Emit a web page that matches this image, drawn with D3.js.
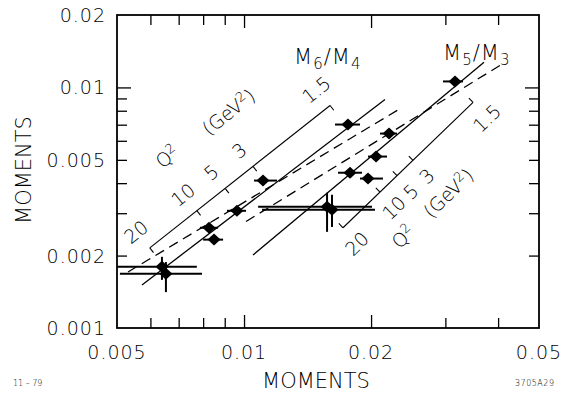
<!DOCTYPE html>
<html><head><meta charset="utf-8">
<script src="https://cdn.jsdelivr.net/npm/d3@7"></script>
<style>
body{margin:0;background:#fff}
svg{display:block}
text{font-family:"DejaVu Sans",sans-serif;font-weight:200;fill:#000}
</style>
</head><body>
<svg id="c" width="561" height="394"></svg>
<script>
// ---------- data ----------
// M6/M4 points (x = M4, y = M6)
const m64X    = [0.00639, 0.00653, 0.00826, 0.00849, 0.00962, 0.01109, 0.01763];
const m64Y    = [0.001796, 0.00168, 0.00261, 0.00233, 0.00307, 0.00410, 0.00701];
const m64XLo  = [0.00500, 0.00508, 0.00786, 0.00800, 0.00911, 0.01056, 0.01643];
const m64XHi  = [0.00773, 0.00795, 0.00868, 0.00892, 0.01011, 0.01197, 0.01883];
const m64YLo  = [0.001585, 0.00141, null, null, null, null, null];
const m64YHi  = [0.001976, 0.00188, null, null, null, null, null];
// M5/M3 points (x = M3, y = M5)
const m53X    = [0.01573, 0.01616, 0.01783, 0.01967, 0.02055, 0.02206, 0.03162];
const m53Y    = [0.00319, 0.00310, 0.00442, 0.00418, 0.00516, 0.00643, 0.01059];
const m53XLo  = [0.01080, 0.01103, 0.01670, 0.01883, 0.01967, 0.02100, 0.02961];
const m53XHi  = [0.02010, 0.02043, 0.01903, 0.02134, 0.02182, 0.02304, 0.03303];
const m53YLo  = [0.00251, 0.00263, null, null, null, null, null];
const m53YHi  = [0.00365, 0.00358, null, null, null, null, null];
// theory curves (straight in log-log): [x, y] end points
const m64Solid  = [[0.00573, 0.00151], [0.02158, 0.00891]];
const m64Dashed = [[0.00531, 0.00171], [0.02367, 0.00825]];
const m53Solid  = [[0.01050, 0.00201], [0.03704, 0.01271]];
const m53Dashed = [[0.01011, 0.00277], [0.04042, 0.01235]];
// Q2 scales (GeV^2)
const q2Labels  = ["20", "10", "5", "3", "1.5"];
const m64Q2Line = [[0.00598, 0.002154], [0.01599, 0.00841]];
const m64Q2X    = [0.00598, 0.00773, 0.00902, 0.01050, 0.01599];
const m53Q2Line = [[0.01716, 0.00261], [0.03489, 0.00866]];
const m53Q2X    = [0.01716, 0.02100, 0.02304, 0.02514, 0.03489];
// axes
const xTickVals   = [0.005, 0.01, 0.02, 0.05];
const xTickLabels = ["0.005", "0.01", "0.02", "0.05"];
const yTickVals   = [0.001, 0.002, 0.005, 0.01, 0.02];
const yTickLabels = ["0.001", "0.002", "0.005", "0.01", "0.02"];
const xMinor = [0.006, 0.007, 0.008, 0.009, 0.01, 0.02, 0.03, 0.04];
const yMinor = [0.002, 0.003, 0.004, 0.005, 0.006, 0.007, 0.008, 0.009, 0.01];

// ---------- drawing ----------
const svg = d3.select("#c");
const L = 117, R = 539, T = 15, B = 328;
const x = d3.scaleLog().domain([0.005, 0.05]).range([L, R]);
const y = d3.scaleLog().domain([0.001, 0.02]).range([B, T]);

function styleTicks(g) {
  g.select(".domain").remove();
  g.selectAll(".tick line").attr("stroke", "#000").attr("stroke-width", 1.3);
  g.selectAll(".tick text").remove();
}
svg.append("g").attr("transform", `translate(0,${B})`)
  .call(d3.axisBottom(x).tickValues(xMinor).tickSize(-10).tickFormat(""))
  .call(styleTicks).selectAll(".tick line").filter(d => d === 0.01 || d === 0.02).attr("y2", -13);
svg.append("g").attr("transform", `translate(0,${T})`)
  .call(d3.axisTop(x).tickValues(xMinor).tickSize(-10).tickFormat(""))
  .call(styleTicks).selectAll(".tick line").filter(d => d === 0.01 || d === 0.02).attr("y2", 13);
svg.append("g").attr("transform", `translate(${L},0)`)
  .call(d3.axisLeft(y).tickValues(yMinor).tickSize(-10).tickFormat(""))
  .call(styleTicks).selectAll(".tick line").filter(d => d === 0.01).attr("x2", 14);
svg.append("g").attr("transform", `translate(${R},0)`)
  .call(d3.axisRight(y).tickValues(yMinor).tickSize(-10).tickFormat(""))
  .call(styleTicks).selectAll(".tick line").filter(d => d === 0.01).attr("x2", -14);

// frame
svg.append("rect").attr("x", L).attr("y", T).attr("width", R - L).attr("height", B - T)
  .attr("fill", "none").attr("stroke", "#000").attr("stroke-width", 1.8);

// tick labels
svg.append("g").selectAll("text").data(xTickVals).join("text")
  .attr("x", d => x(d)).attr("y", 359).attr("text-anchor", "middle")
  .attr("font-size", 19).attr("letter-spacing", 1)
  .text((d, i) => xTickLabels[i]);
svg.append("g").selectAll("text").data(yTickVals).join("text")
  .attr("x", 106).attr("y", d => y(d) + 7).attr("text-anchor", "end")
  .attr("font-size", 19).attr("letter-spacing", 1)
  .text((d, i) => yTickLabels[i]);

// axis titles
svg.append("text").attr("x", 316).attr("y", 388).attr("text-anchor", "middle")
  .attr("font-size", 21).text("MOMENTS");
svg.append("text").attr("transform", "translate(31,170) rotate(-90)").attr("text-anchor", "middle")
  .attr("font-size", 21).text("MOMENTS");

// footnotes
svg.append("text").attr("x", 13).attr("y", 386).attr("font-size", 8).text("11 \u2013 79");
svg.append("text").attr("x", 515).attr("y", 386).attr("font-size", 8).attr("letter-spacing", 0.5).text("3705A29");

// theory lines
function drawLine(seg, dashed) {
  svg.append("line")
    .attr("x1", x(seg[0][0])).attr("y1", y(seg[0][1]))
    .attr("x2", x(seg[1][0])).attr("y2", y(seg[1][1]))
    .attr("stroke", "#000").attr("stroke-width", 1.3)
    .attr("stroke-dasharray", dashed ? "10,6" : null);
}
drawLine(m64Solid, false);
drawLine(m64Dashed, true);
drawLine(m53Solid, false);
drawLine(m53Dashed, true);

// Q2 scales
function q2Scale(line, qx, side) {
  const p0 = [x(line[0][0]), y(line[0][1])], p1 = [x(line[1][0]), y(line[1][1])];
  const dx = p1[0] - p0[0], dy = p1[1] - p0[1], len = Math.hypot(dx, dy);
  const u = [dx / len, dy / len];
  const n = side > 0 ? [u[1], -u[0]] : [-u[1], u[0]]; // label side
  const ang = Math.atan2(dy, dx) * 180 / Math.PI;
  const g = svg.append("g");
  g.append("line").attr("x1", p0[0]).attr("y1", p0[1]).attr("x2", p1[0]).attr("y2", p1[1])
    .attr("stroke", "#000").attr("stroke-width", 1.1);
  const pts = qx.map(v => { const t = (x(v) - p0[0]) / dx; return [p0[0] + t * dx, p0[1] + t * dy, t * len]; });
  g.selectAll("line.tk").data(pts).join("line").attr("class", "tk")
    .attr("x1", d => d[0]).attr("y1", d => d[1])
    .attr("x2", d => d[0] - n[0] * 6).attr("y2", d => d[1] - n[1] * 6)
    .attr("stroke", "#000").attr("stroke-width", 1.1);
  g.selectAll("text.tl").data(pts).join("text").attr("class", "tl")
    .attr("transform", d => `translate(${d[0] + n[0] * 21 - u[0] * 1},${d[1] + n[1] * 21 - u[1] * 1}) rotate(${ang})`)
    .attr("text-anchor", "middle").attr("dy", "0.36em").attr("font-size", 19)
    .text((d, i) => q2Labels[i]);
  const at = (a, p) => [p0[0] + u[0] * a + n[0] * p, p0[1] + u[1] * a + n[1] * p];
  return { at, ang, g };
}
function q2Text(sc, pos, parts) {
  const t = sc.g.append("text")
    .attr("transform", `translate(${pos[0]},${pos[1]}) rotate(${sc.ang})`)
    .attr("text-anchor", "middle").attr("dy", "0.36em").attr("font-size", 19);
  parts.forEach(p => {
    t.append("tspan").attr("font-size", p.sup ? 13 : 19).attr("dy", p.sup ? -7 : (p.after ? 7 : 0)).text(p.s);
  });
}
const sc64 = q2Scale(m64Q2Line, m64Q2X, +1);
q2Text(sc64, sc64.at(70, 54), [{s: "Q"}, {s: "2", sup: true}]);
q2Text(sc64, sc64.at(146, 51), [{s: "(GeV"}, {s: "2", sup: true}, {s: ")", after: true}]);
const sc53 = q2Scale(m53Q2Line, m53Q2X, -1);
q2Text(sc53, sc53.at(37, 55), [{s: "Q"}, {s: "2", sup: true}]);
q2Text(sc53, sc53.at(100, 55), [{s: "(GeV"}, {s: "2", sup: true}, {s: ")", after: true}]);

// series labels
function ratioLabel(px, py, a, b) {
  const t = svg.append("text").attr("x", px).attr("y", py).attr("font-size", 21).attr("letter-spacing", 1);
  t.append("tspan").text("M");
  t.append("tspan").attr("font-size", 15).attr("dy", 5).text(a);
  t.append("tspan").attr("dy", -5).text("/M");
  t.append("tspan").attr("font-size", 15).attr("dy", 5).text(b);
}
ratioLabel(294, 64, "6", "4");
ratioLabel(443, 60, "5", "3");

// data points with error bars
function drawSeries(xs, ys, xlo, xhi, ylo, yhi) {
  const g = svg.append("g");
  xs.forEach((xv, i) => {
    g.append("line").attr("x1", x(xlo[i])).attr("x2", x(xhi[i]))
      .attr("y1", y(ys[i])).attr("y2", y(ys[i]))
      .attr("stroke", "#000").attr("stroke-width", 2);
    if (ylo[i] !== null) {
      g.append("line").attr("x1", x(xv)).attr("x2", x(xv))
        .attr("y1", y(ylo[i])).attr("y2", y(yhi[i]))
        .attr("stroke", "#000").attr("stroke-width", 2);
    }
    g.append("path")
      .attr("transform", `translate(${x(xv)},${y(ys[i])})`)
      .attr("d", "M0,-6L6.5,0L0,6L-6.5,0Z").attr("fill", "#000");
  });
}
drawSeries(m64X, m64Y, m64XLo, m64XHi, m64YLo, m64YHi);
drawSeries(m53X, m53Y, m53XLo, m53XHi, m53YLo, m53YHi);
</script>
</body></html>
